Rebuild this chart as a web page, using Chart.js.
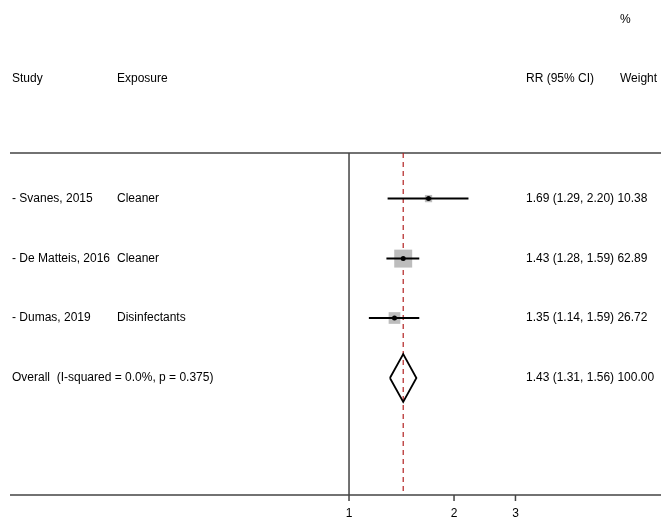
<!DOCTYPE html>
<html><head><meta charset="utf-8">
<script src="https://cdn.jsdelivr.net/npm/chart.js@4"></script>
<style>body{margin:0;background:#fff}canvas{display:block}</style>
</head><body>
<canvas id="forest" width="661" height="518"></canvas>
<script>
const studies = ['- Svanes, 2015', '- De Matteis, 2016', '- Dumas, 2019'];
const exposures = ['Cleaner', 'Cleaner', 'Disinfectants'];
const rr = [1.69, 1.43, 1.35];
const lower = [1.29, 1.28, 1.14];
const upper = [2.20, 1.59, 1.59];
const weights = [10.38, 62.89, 26.72];
const rrText = ['1.69 (1.29, 2.20)', '1.43 (1.28, 1.59)', '1.35 (1.14, 1.59)'];
const overall = { rr: 1.43, lo: 1.31, hi: 1.56, text: '1.43 (1.31, 1.56)', weight: '100.00',
  label: 'Overall  (I-squared = 0.0%, p = 0.375)' };
const rows = [0.76, 1.76, 2.75];
const overallRow = 3.75;
const xTicks = [1, 2, 3];

const FONT = '12px "Liberation Sans", Arial, sans-serif';

const datasets = [];
rows.forEach((r, i) => {
    datasets.push({
        type: 'scatter', order: 1, data: [{x: lower[i], y: r}, {x: upper[i], y: r}],
        showLine: true, borderColor: '#000', borderWidth: 2, pointRadius: 0
    });
});
datasets.push({
    type: 'scatter', order: 2, data: rr.map((v, i) => ({x: v, y: rows[i]})),
    pointStyle: 'rect', pointRadius: weights.map(w => 1.6 * Math.sqrt(w)),
    backgroundColor: '#bdbdbd', borderWidth: 0
});
datasets.push({
    type: 'scatter', order: 0, data: rr.map((v, i) => ({x: v, y: rows[i]})),
    pointRadius: 2.5, backgroundColor: '#000', borderWidth: 0
});
datasets.push({
    type: 'scatter', order: 1,
    data: [{x: overall.lo, y: overallRow}, {x: overall.rr, y: overallRow - 0.4},
           {x: overall.hi, y: overallRow}, {x: overall.rr, y: overallRow + 0.4},
           {x: overall.lo, y: overallRow}],
    showLine: true, borderColor: '#000', borderWidth: 1.8, pointRadius: 0
});

const decor = {
    id: 'decor',
    beforeDatasetsDraw(chart) {
        const c = chart.ctx, x = chart.scales.x, a = chart.chartArea;
        c.save();
        c.strokeStyle = '#444'; c.lineWidth = 1.5;
        c.beginPath();
        c.moveTo(a.left, a.top); c.lineTo(a.right, a.top);
        c.moveTo(a.left, a.bottom); c.lineTo(a.right, a.bottom);
        const x1 = x.getPixelForValue(1);
        c.moveTo(x1, a.top); c.lineTo(x1, a.bottom + 6);
        xTicks.slice(1).forEach(t => { const p = x.getPixelForValue(t); c.moveTo(p, a.bottom); c.lineTo(p, a.bottom + 6); });
        c.stroke();
        c.strokeStyle = '#b22222'; c.lineWidth = 1.2; c.setLineDash([5, 4]);
        const xo = x.getPixelForValue(overall.rr);
        c.beginPath(); c.moveTo(xo, a.top); c.lineTo(xo, a.bottom); c.stroke();
        c.restore();
    },
    afterDraw(chart) {
        const c = chart.ctx, x = chart.scales.x, y = chart.scales.y, a = chart.chartArea;
        c.save();
        c.font = FONT; c.fillStyle = '#000'; c.textBaseline = 'middle';
        c.fillText('%', 620, 20);
        c.fillText('Study', 12, 79); c.fillText('Exposure', 117, 79);
        c.fillText('RR (95% CI)', 526, 79); c.fillText('Weight', 620, 79);
        rows.forEach((r, i) => {
            const py = y.getPixelForValue(r);
            c.fillText(studies[i], 12, py);
            c.fillText(exposures[i], 117, py);
            c.fillText(rrText[i] + ' ' + weights[i].toFixed(2), 526, py);
        });
        const po = y.getPixelForValue(overallRow);
        c.fillText(overall.label, 12, po);
        c.fillText(overall.text + ' ' + overall.weight, 526, po);
        c.textAlign = 'center'; c.textBaseline = 'top';
        xTicks.forEach(t => c.fillText(String(t), x.getPixelForValue(t), a.bottom + 13));
        c.restore();
    }
};

new Chart(document.getElementById('forest'), {
    type: 'scatter',
    data: { datasets: datasets },
    options: {
        responsive: false, animation: false, devicePixelRatio: 1,
        layout: { autoPadding: false, padding: { left: 10, right: 0, top: 153, bottom: 23 } },
        plugins: { legend: { display: false }, tooltip: { enabled: false } },
        scales: {
            x: { type: 'logarithmic', min: 0.1067, max: 7.84, display: false },
            y: { type: 'linear', min: 0, max: 5.7, reverse: true, display: false }
        }
    },
    plugins: [decor]
});
</script>
</body></html>
